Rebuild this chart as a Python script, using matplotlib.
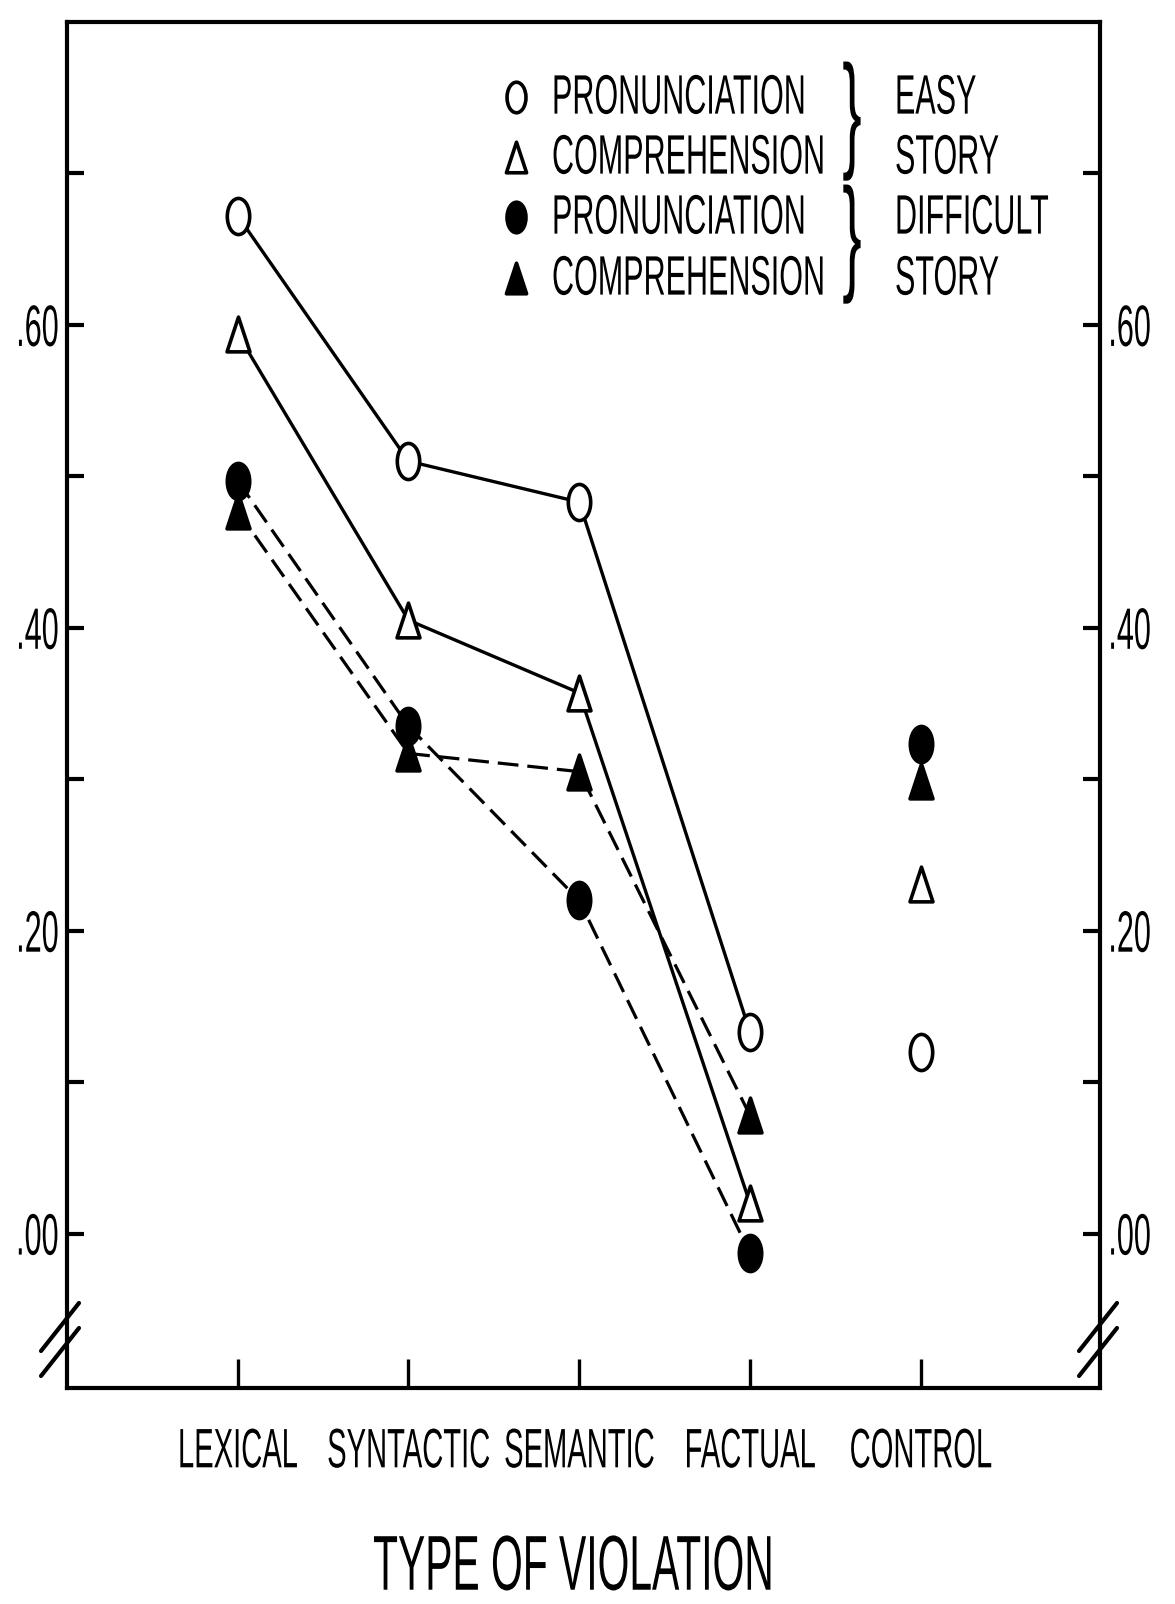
import numpy as np
import matplotlib
matplotlib.use("Agg")
import matplotlib.pyplot as plt
from matplotlib import font_manager
from matplotlib.path import Path
from matplotlib.patheffects import AbstractPathEffect
from matplotlib.transforms import Affine2D

# proportion of responses per violation type (control is not joined to the lines)
categories = ["LEXICAL", "SYNTACTIC", "SEMANTIC", "FACTUAL", "CONTROL"]
easy_pron = [0.672, 0.510, 0.483, 0.133, 0.120]
easy_comp = [0.594, 0.405, 0.357, 0.020, 0.231]
diff_pron = [0.497, 0.335, 0.220, -0.013, 0.323]
diff_comp = [0.477, 0.317, 0.305, 0.078, 0.299]

ytick_vals = [0.0, 0.1, 0.2, 0.3, 0.4, 0.5, 0.6, 0.7]
ytick_labels = [".00", "", ".20", "", ".40", "", ".60", ""]

legend_rows = ["PRONUNCIATION", "COMPREHENSION", "PRONUNCIATION", "COMPREHENSION"]
legend_groups = ["EASY", "STORY", "DIFFICULT", "STORY"]

# condensed sans; fall back to the regular width if Narrow is missing
names = {f.name for f in font_manager.fontManager.ttflist}
if "Liberation Sans Narrow" in names:
    FONT, WIDTH = "Liberation Sans Narrow", 1.0
else:
    FONT, WIDTH = "Liberation Sans", 0.82
plt.rcParams["font.family"] = [FONT, "DejaVu Sans"]


class Tall(AbstractPathEffect):
    """Draw text stretched vertically about its anchor edge (gives a compressed look)."""

    def __init__(self, sy, va="center"):
        super().__init__()
        self.sy = sy
        self.va = va

    def draw_path(self, renderer, gc, tpath, affine, rgbFace=None):
        ext = affine.transform_path(tpath).get_extents()
        if self.va == "top":
            y0 = ext.y1
        elif self.va == "bottom":
            y0 = ext.y0
        else:
            y0 = (ext.y0 + ext.y1) / 2
        st = Affine2D().translate(0, -y0).scale(1, self.sy).translate(0, y0)
        renderer.draw_path(gc, tpath, affine + st, rgbFace)


def condensed(height_pt, squeeze):
    """Font size giving the wanted width, and the vertical stretch giving the wanted height."""
    k = squeeze * WIDTH
    return height_pt * k, 1.0 / k


# tall, narrow marker shapes
ellipse = Path.unit_circle().transformed(Affine2D().scale(0.62, 1.0))
tri = Path([(-0.33, -0.5), (0.33, -0.5), (0.0, 0.5), (-0.33, -0.5)],
           [Path.MOVETO, Path.LINETO, Path.LINETO, Path.CLOSEPOLY])

W, H = 1175, 1604
fig = plt.figure(figsize=(W / 100, H / 100), dpi=100)
fig.patch.set_facecolor("white")
ax = fig.add_axes([67 / W, 1 - 1388 / H, 1033 / W, 1366 / H])

x = np.arange(1, len(categories) + 1)

series = [
    (easy_pron, ellipse, "white", "-", 26),
    (easy_comp, tri, "white", "-", 25),
    (diff_pron, ellipse, "black", "--", 26),
    (diff_comp, tri, "black", "--", 25),
]
for vals, mk, face, ls, ms in series:
    if ls == "-":
        ax.plot(x[:4], vals[:4], color="black", lw=2.4, zorder=2)
    else:
        ax.plot(x[:4], vals[:4], color="black", lw=2.3, dashes=(6.5, 2.8), zorder=2)
    ax.plot(x, vals, linestyle="none", marker=mk, markersize=ms,
            markerfacecolor=face, markeredgecolor="black", markeredgewidth=2.6, zorder=3)

ax.set_xlim(0.0, 6.05)
ax.set_ylim(-0.102, 0.80)

for side in ["left", "right", "top", "bottom"]:
    ax.spines[side].set_linewidth(3.0)

ytick_fs, ytick_sy = condensed(42, 0.64)
xtick_fs, xtick_sy = condensed(40, 0.64)
ax.set_yticks(ytick_vals, ytick_labels)
ax.tick_params(axis="y", direction="in", length=12, width=3.0, left=True, right=True,
               labelleft=True, labelright=True, labelsize=ytick_fs, pad=6)
ax.set_xticks(x, categories)
ax.tick_params(axis="x", direction="in", length=21, width=2.4, labelsize=xtick_fs, pad=28)

for lbl in ax.get_yticklabels():
    lbl.set_path_effects([Tall(ytick_sy, "center")])
for lbl in ax.get_xticklabels():
    lbl.set_path_effects([Tall(xtick_sy, "top")])


def fx(px):
    return px / W


def fy(py):
    return 1 - py / H


# axis break marks near the bottom of both vertical axes
for xc in (60, 1098):
    for off in (61, 36):
        yc = 1388 - off
        ax.plot([fx(xc - 19), fx(xc + 19)], [fy(yc + 24), fy(yc - 24)],
                transform=fig.transFigure, color="black", lw=3.0,
                solid_capstyle="round", clip_on=False)

# legend
leg_fs, leg_sy = condensed(40, 0.67)
rows_y = [97, 157, 217, 278]
leg_marks = [(ellipse, "white", 22), (tri, "white", 22), (ellipse, "black", 22), (tri, "black", 22)]
for ry, label, (mk, face, ms) in zip(rows_y, legend_rows, leg_marks):
    ax.plot([fx(516)], [fy(ry)], transform=fig.transFigure, marker=mk, markersize=ms,
            markerfacecolor=face, markeredgecolor="black", markeredgewidth=2.6,
            linestyle="none", clip_on=False)
    t = fig.text(fx(552), fy(ry), label, ha="left", va="center", fontsize=leg_fs)
    t.set_path_effects([Tall(leg_sy, "center")])

for ry, label in zip(rows_y, legend_groups):
    t = fig.text(fx(895), fy(ry), label, ha="left", va="center", fontsize=leg_fs)
    t.set_path_effects([Tall(leg_sy, "center")])

brace_fs, brace_sy = condensed(92, 0.55)
for cy in (121, 244):
    t = fig.text(fx(852), fy(cy), "}", ha="center", va="center", fontsize=brace_fs)
    t.set_path_effects([Tall(brace_sy, "center")])

title_fs, title_sy = condensed(56, 0.64)
t = fig.text(fx(573), fy(1566), "TYPE OF VIOLATION", ha="center", va="center", fontsize=title_fs)
t.set_path_effects([Tall(title_sy, "center")])

fig.savefig("out.png", dpi=100, facecolor="white")
